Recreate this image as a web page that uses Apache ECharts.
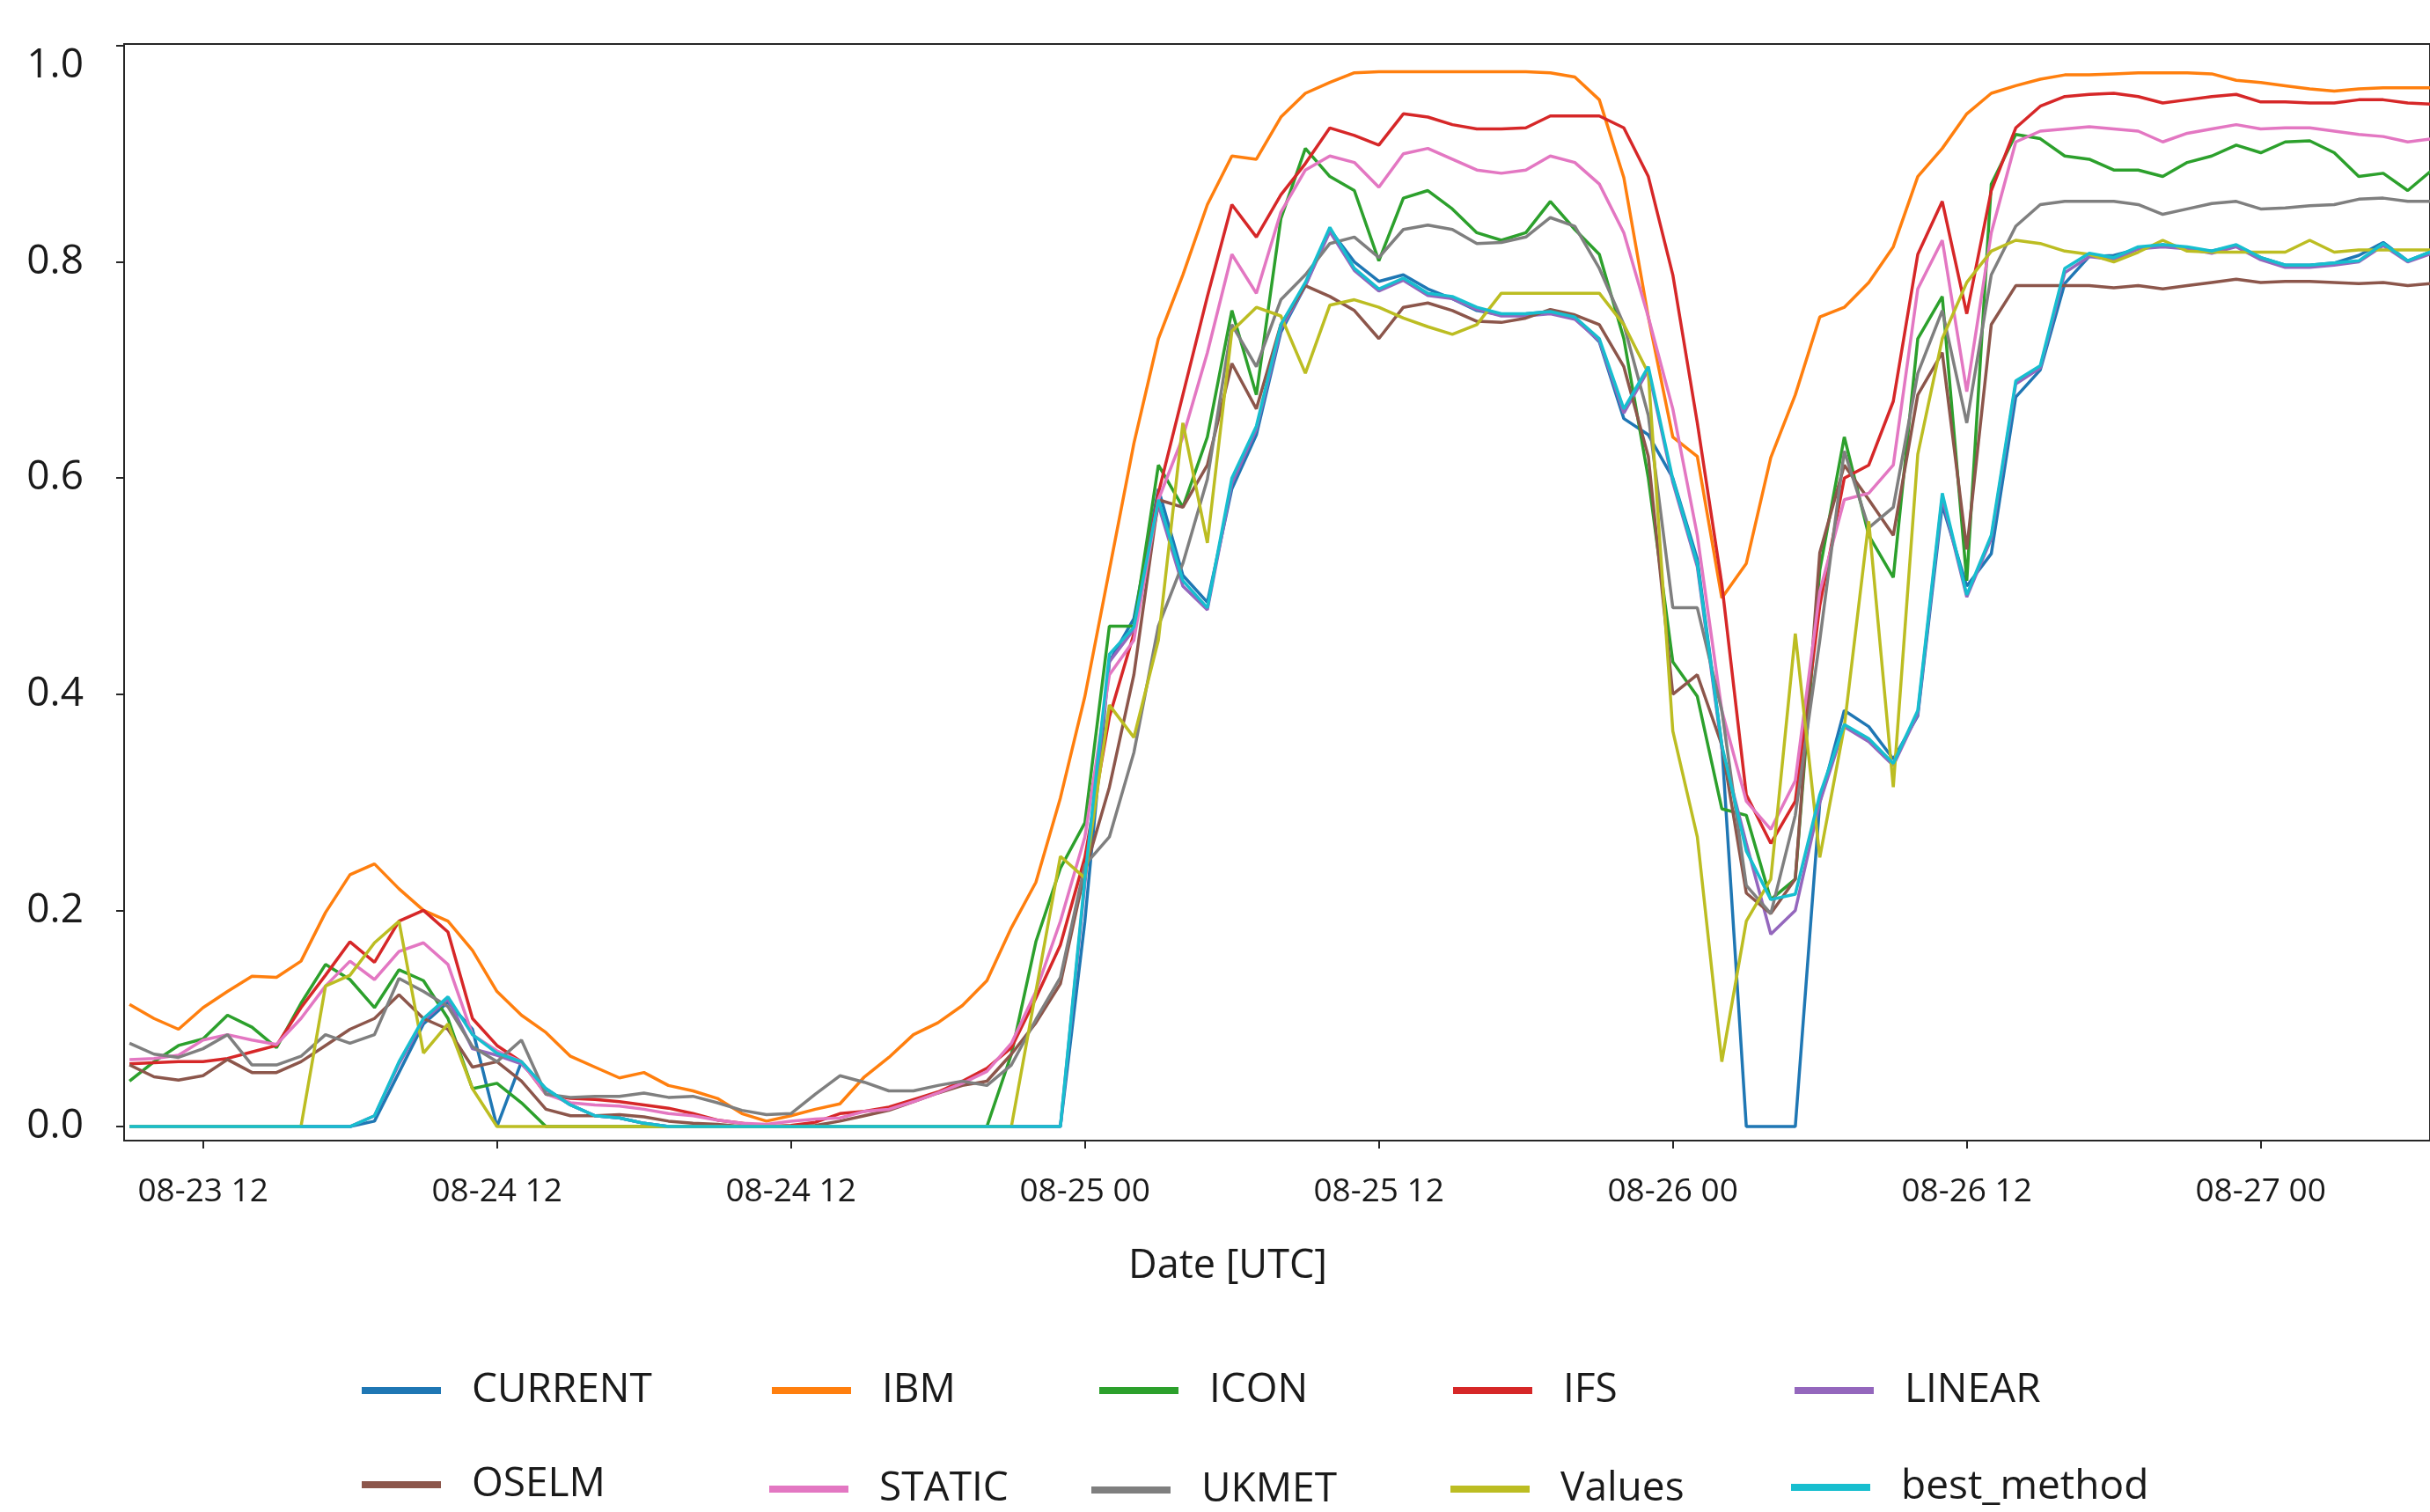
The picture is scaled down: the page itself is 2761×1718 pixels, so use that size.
<!DOCTYPE html>
<html>
<head>
<meta charset="utf-8">
<script src="https://cdn.jsdelivr.net/npm/echarts@6/dist/echarts.min.js"></script>
<style>
html,body{margin:0;padding:0;background:#fff;}
#chart{width:2761px;height:1718px;}
</style>
</head>
<body>
<div id="chart"></div>
<script>
// hours relative to 08-23 12:00 UTC (hourly samples from 08-23 09:00)
const hours = Array.from({length: 95}, (_, i) => i - 3);
const tickHours = [0, 12, 24, 36, 48, 60, 72, 84];
const tickLabels = ['08-23 12', '08-24 12', '08-24 12', '08-25 00', '08-25 12', '08-26 00', '08-26 12', '08-27 00'];
const seriesNames = ['CURRENT', 'IBM', 'ICON', 'IFS', 'LINEAR', 'OSELM', 'STATIC', 'UKMET', 'Values', 'best_method'];

const CURRENT = [
  0,0,0,0,0,0,0,0,0,0,0.005,0.05,
  0.095,0.115,0.09,0,0.06,0.035,0.02,0.01,0.008,0.003,0,0,
  0,0,0,0,0,0,0,0,0,0,0,0,
  0,0,0,0.19,0.43,0.47,0.59,0.51,0.485,0.59,0.64,0.735,
  0.778,0.83,0.8,0.782,0.788,0.775,0.766,0.755,0.751,0.752,0.754,0.749,
  0.726,0.655,0.64,0.6,0.525,0.353,0,0,0,0.3,0.385,0.37,
  0.34,0.38,0.575,0.5,0.53,0.675,0.7,0.78,0.805,0.806,0.812,0.816,
  0.812,0.81,0.815,0.804,0.797,0.797,0.799,0.806,0.818,0.801,0.81];
const IBM = [
  0.113,0.1,0.09,0.11,0.125,0.139,0.138,0.153,0.198,0.233,0.243,0.22,
  0.2,0.19,0.163,0.125,0.103,0.087,0.065,0.055,0.045,0.05,0.038,0.033,
  0.026,0.012,0.005,0.01,0.016,0.021,0.046,0.064,0.085,0.096,0.112,0.135,
  0.184,0.226,0.304,0.398,0.515,0.632,0.729,0.788,0.853,0.898,0.895,0.934,
  0.956,0.966,0.975,0.976,0.976,0.976,0.976,0.976,0.976,0.976,0.975,0.971,
  0.95,0.878,0.749,0.638,0.62,0.489,0.521,0.619,0.677,0.749,0.758,0.781,
  0.814,0.879,0.905,0.937,0.956,0.963,0.969,0.973,0.973,0.974,0.975,0.975,
  0.975,0.974,0.968,0.966,0.963,0.96,0.958,0.96,0.961,0.961,0.961];
const ICON = [
  0.042,0.06,0.075,0.081,0.103,0.092,0.073,0.114,0.15,0.136,0.11,0.145,
  0.135,0.1,0.035,0.04,0.022,0,0,0,0,0,0,0,
  0,0,0,0,0,0,0,0,0,0,0,0,
  0.067,0.171,0.239,0.281,0.463,0.463,0.612,0.573,0.638,0.755,0.677,0.84,
  0.905,0.879,0.866,0.801,0.859,0.866,0.849,0.827,0.82,0.827,0.856,0.83,
  0.807,0.729,0.6,0.43,0.398,0.294,0.288,0.21,0.229,0.515,0.638,0.547,
  0.508,0.729,0.768,0.505,0.872,0.918,0.914,0.898,0.895,0.885,0.885,0.879,
  0.892,0.898,0.908,0.901,0.911,0.912,0.901,0.879,0.882,0.866,0.885];
const IFS = [
  0.058,0.059,0.06,0.06,0.063,0.069,0.075,0.11,0.14,0.171,0.152,0.19,
  0.2,0.18,0.1,0.075,0.06,0.03,0.026,0.025,0.023,0.02,0.017,0.012,
  0.006,0.003,0,0.001,0.004,0.012,0.014,0.018,0.025,0.032,0.042,0.054,
  0.073,0.119,0.168,0.249,0.379,0.456,0.586,0.677,0.768,0.853,0.823,0.862,
  0.891,0.924,0.917,0.908,0.937,0.934,0.927,0.923,0.923,0.924,0.935,0.935,
  0.935,0.924,0.879,0.788,0.651,0.502,0.307,0.262,0.301,0.482,0.6,0.612,
  0.671,0.807,0.856,0.752,0.866,0.924,0.944,0.953,0.955,0.956,0.953,0.947,
  0.95,0.953,0.955,0.948,0.948,0.947,0.947,0.95,0.95,0.947,0.946];
const LINEAR = [
  0,0,0,0,0,0,0,0,0,0,0.01,0.058,
  0.098,0.118,0.072,0.066,0.058,0.034,0.02,0.01,0.008,0.003,0,0,
  0,0,0,0,0,0,0,0,0,0,0,0,
  0,0,0,0.225,0.43,0.46,0.575,0.5,0.478,0.595,0.645,0.738,
  0.778,0.828,0.792,0.773,0.783,0.769,0.766,0.756,0.75,0.75,0.752,0.747,
  0.727,0.66,0.7,0.596,0.518,0.35,0.262,0.178,0.2,0.3,0.37,0.356,
  0.334,0.382,0.582,0.49,0.544,0.687,0.702,0.79,0.805,0.802,0.812,0.814,
  0.812,0.808,0.814,0.802,0.795,0.795,0.797,0.8,0.815,0.8,0.808];
const OSELM = [
  0.057,0.046,0.043,0.047,0.062,0.05,0.05,0.06,0.075,0.09,0.1,0.122,
  0.1,0.09,0.055,0.06,0.042,0.016,0.01,0.01,0.011,0.009,0.005,0.003,
  0.002,0,0,0,0.001,0.005,0.01,0.015,0.023,0.031,0.038,0.042,
  0.067,0.096,0.132,0.236,0.314,0.418,0.58,0.573,0.612,0.706,0.664,0.742,
  0.778,0.768,0.755,0.729,0.758,0.762,0.755,0.745,0.744,0.748,0.756,0.751,
  0.742,0.703,0.62,0.4,0.418,0.353,0.216,0.197,0.229,0.531,0.612,0.58,
  0.547,0.677,0.716,0.534,0.742,0.778,0.778,0.778,0.778,0.776,0.778,0.775,
  0.778,0.781,0.784,0.781,0.782,0.782,0.781,0.78,0.781,0.778,0.78];
const STATIC = [
  0.062,0.063,0.066,0.08,0.085,0.08,0.076,0.1,0.13,0.153,0.136,0.162,
  0.17,0.15,0.085,0.07,0.06,0.03,0.022,0.02,0.019,0.016,0.012,0.01,
  0.006,0.003,0.002,0.005,0.007,0.008,0.014,0.016,0.023,0.031,0.04,0.051,
  0.077,0.125,0.19,0.268,0.418,0.45,0.58,0.638,0.716,0.807,0.771,0.846,
  0.885,0.898,0.892,0.869,0.9,0.905,0.895,0.885,0.882,0.885,0.898,0.892,
  0.872,0.827,0.749,0.664,0.547,0.385,0.301,0.275,0.32,0.495,0.58,0.586,
  0.612,0.775,0.82,0.68,0.827,0.911,0.921,0.923,0.925,0.923,0.921,0.911,
  0.919,0.923,0.927,0.923,0.924,0.924,0.921,0.918,0.916,0.911,0.914];
const UKMET = [
  0.077,0.067,0.064,0.072,0.085,0.057,0.057,0.065,0.085,0.077,0.085,0.137,
  0.125,0.111,0.074,0.06,0.08,0.03,0.027,0.028,0.028,0.031,0.027,0.028,
  0.022,0.015,0.011,0.012,0.03,0.047,0.041,0.033,0.033,0.038,0.042,0.038,
  0.057,0.099,0.138,0.242,0.268,0.346,0.463,0.521,0.599,0.742,0.703,0.765,
  0.788,0.817,0.823,0.804,0.83,0.834,0.83,0.817,0.818,0.823,0.841,0.833,
  0.794,0.742,0.658,0.48,0.48,0.385,0.223,0.197,0.288,0.45,0.625,0.554,
  0.573,0.697,0.755,0.651,0.788,0.833,0.853,0.856,0.856,0.856,0.853,0.844,
  0.849,0.854,0.856,0.849,0.85,0.852,0.853,0.858,0.859,0.856,0.856];
const Values = [
  0,0,0,0,0,0,0,0,0.13,0.14,0.17,0.19,
  0.068,0.095,0.035,0,0,0,0,0,0,0,0,0,
  0,0,0,0,0,0,0,0,0,0,0,0,
  0,0.125,0.25,0.23,0.39,0.36,0.45,0.651,0.54,0.736,0.758,0.75,
  0.697,0.76,0.765,0.758,0.748,0.74,0.733,0.742,0.771,0.771,0.771,0.771,
  0.771,0.742,0.697,0.366,0.268,0.06,0.19,0.229,0.456,0.249,0.37,0.56,
  0.314,0.622,0.729,0.781,0.81,0.82,0.817,0.81,0.807,0.8,0.809,0.82,
  0.81,0.809,0.809,0.809,0.809,0.82,0.809,0.811,0.811,0.811,0.811];
const best_method = [
  0,0,0,0,0,0,0,0,0,0,0.01,0.06,
  0.1,0.12,0.085,0.068,0.06,0.035,0.02,0.01,0.008,0.003,0,0,
  0,0,0,0,0,0,0,0,0,0,0,0,
  0,0,0,0.23,0.437,0.462,0.58,0.505,0.48,0.6,0.648,0.742,
  0.781,0.832,0.794,0.775,0.785,0.771,0.768,0.758,0.752,0.752,0.754,0.749,
  0.729,0.664,0.703,0.599,0.521,0.353,0.255,0.21,0.215,0.307,0.372,0.359,
  0.336,0.385,0.586,0.492,0.547,0.69,0.704,0.794,0.808,0.804,0.814,0.816,
  0.814,0.81,0.816,0.804,0.797,0.797,0.799,0.801,0.817,0.801,0.81];

const seriesValues = [CURRENT, IBM, ICON, IFS, LINEAR, OSELM, STATIC, UKMET, Values, best_method];
const colors = ['#1f77b4','#ff7f0e','#2ca02c','#d62728','#9467bd','#8c564b','#e377c2','#7f7f7f','#bcbd22','#17becf'];

const FONT = "'Open Sans', 'DejaVu Sans', sans-serif";
const TXT = '#1a1a1a';

// legend anchor (icon left x, icon centre y)
const legendPos = [[411,1580],[877,1580],[1249,1580],[1651,1580],[2039,1580],
                   [411,1687],[874,1692],[1240,1693],[1648,1692],[2035,1690]];

const chart = echarts.init(document.getElementById('chart'), null, {renderer: 'canvas'});

const GRID_LEFT = 141, GRID_RIGHT = -10;
const PX_PER_H = 27.94;
const xMin = -3.221;
const xMax = xMin + (2761 - GRID_LEFT - GRID_RIGHT) / PX_PER_H;

const option = {
  backgroundColor: '#ffffff',
  animation: false,
  color: colors,
  grid: {
    left: GRID_LEFT, right: GRID_RIGHT, top: 50, bottom: 422,
    show: true, borderColor: '#262626', borderWidth: 2, backgroundColor: 'transparent'
  },
  xAxis: {
    type: 'value', min: xMin, max: xMax,
    name: 'Date [UTC]', nameLocation: 'middle', nameGap: 121,
    nameTextStyle: {fontFamily: FONT, fontSize: 45, color: TXT, padding: [0, 112, 0, 0]},
    axisLine: {show: true, onZero: false, lineStyle: {color: '#262626', width: 2}},
    axisTick: {show: true, length: 9, lineStyle: {color: '#262626', width: 2}, customValues: tickHours},
    axisLabel: {
      fontFamily: FONT, fontSize: 37, color: TXT, margin: 40,
      customValues: tickHours,
      formatter: v => { const i = tickHours.indexOf(Math.round(v)); return i >= 0 ? tickLabels[i] : ''; }
    },
    splitLine: {show: false}
  },
  yAxis: {
    type: 'value', min: -0.013, max: 1.0016,
    axisLine: {show: true, onZero: false, lineStyle: {color: '#262626', width: 2}},
    axisTick: {show: true, length: 9, lineStyle: {color: '#262626', width: 2}, customValues: [0,0.2,0.4,0.6,0.8,1.0]},
    axisLabel: {
      fontFamily: FONT, fontSize: 46, color: TXT, margin: 46,
      customValues: [0,0.2,0.4,0.6,0.8,1.0],
      verticalAlignMaxLabel: 'top',
      formatter: v => v.toFixed(1)
    },
    splitLine: {show: false}
  },
  legend: seriesNames.map((n, i) => ({
    data: [n],
    left: legendPos[i][0] - 5,
    top: legendPos[i][1] - 28 - 5,
    icon: 'rect', itemWidth: 90, itemHeight: 8,
    selectedMode: false,
    textStyle: {fontFamily: FONT, fontSize: 46, color: TXT, lineHeight: 56, padding: [0, 0, 0, 30]}
  })),
  series: seriesNames.map((n, i) => ({
    name: n, type: 'line',
    data: hours.map((h, k) => [h, seriesValues[i][k]]),
    showSymbol: false, symbol: 'none',
    lineStyle: {width: 3.5, color: colors[i]},
    itemStyle: {color: colors[i]},
    emphasis: {disabled: true},
    clip: true
  }))
};
chart.setOption(option);
</script>
</body>
</html>
